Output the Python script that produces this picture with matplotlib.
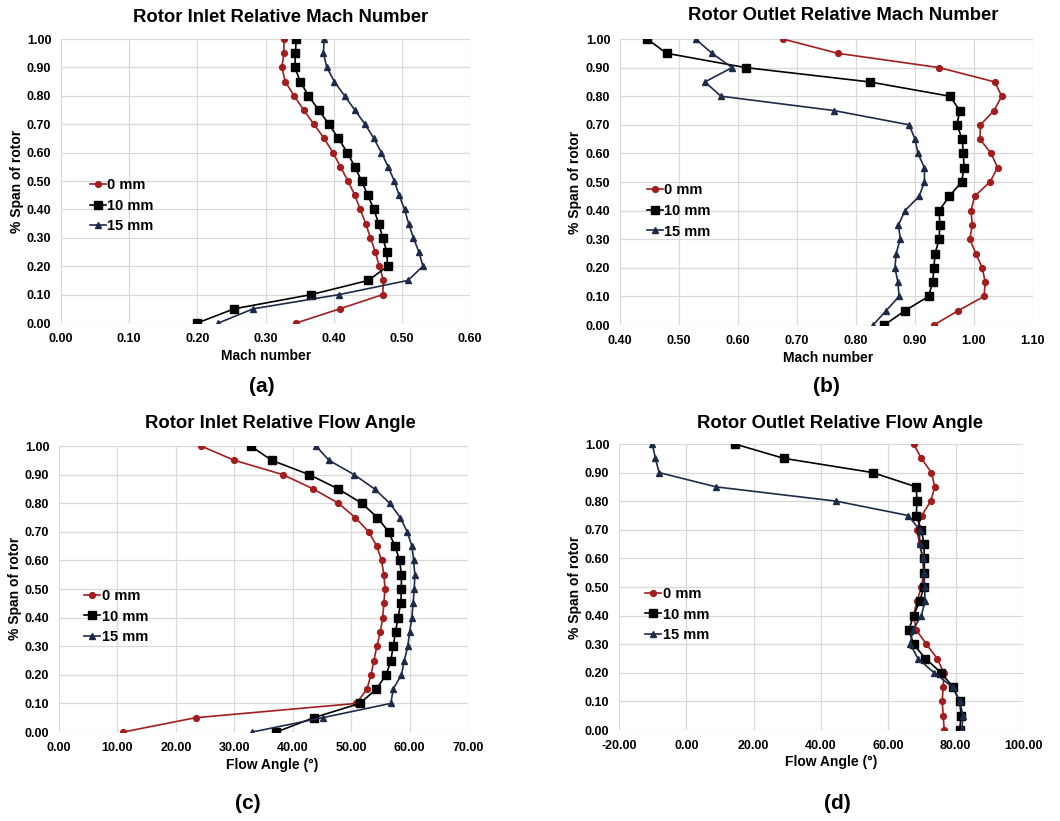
import numpy as np
import matplotlib
matplotlib.use('Agg')
import matplotlib.pyplot as plt

plt.rcParams['font.family'] = ['Liberation Sans', 'DejaVu Sans']
plt.rcParams['font.weight'] = 'bold'

span = [0.00, 0.05, 0.10, 0.15, 0.20, 0.25, 0.30, 0.35, 0.40, 0.45, 0.50,
        0.55, 0.60, 0.65, 0.70, 0.75, 0.80, 0.85, 0.90, 0.95, 1.00]
labels = ['0 mm', '10 mm', '15 mm']

# (a) rotor inlet relative Mach number, hub -> tip
inlet_mach_0 = [0.345, 0.409, 0.472, 0.473, 0.467, 0.461, 0.454, 0.447, 0.439, 0.431, 0.421,
                0.410, 0.399, 0.386, 0.371, 0.356, 0.342, 0.329, 0.324, 0.327, 0.327]
inlet_mach_10 = [0.200, 0.254, 0.367, 0.451, 0.479, 0.478, 0.472, 0.466, 0.459, 0.450, 0.441,
                 0.431, 0.420, 0.407, 0.393, 0.378, 0.363, 0.351, 0.343, 0.344, 0.345]
inlet_mach_15 = [0.231, 0.282, 0.408, 0.509, 0.531, 0.525, 0.517, 0.510, 0.504, 0.496, 0.489,
                 0.480, 0.470, 0.459, 0.446, 0.431, 0.416, 0.401, 0.390, 0.385, 0.386]

# (b) rotor outlet relative Mach number
outlet_mach_0 = [0.932, 0.973, 1.017, 1.019, 1.014, 1.003, 0.993, 0.997, 0.995, 1.001, 1.027,
                 1.040, 1.029, 1.010, 1.011, 1.034, 1.047, 1.035, 0.941, 0.769, 0.676]
outlet_mach_10 = [0.848, 0.883, 0.923, 0.930, 0.932, 0.934, 0.941, 0.942, 0.941, 0.958, 0.979,
                  0.983, 0.982, 0.980, 0.971, 0.976, 0.959, 0.823, 0.613, 0.479, 0.446]
outlet_mach_15 = [0.829, 0.851, 0.873, 0.871, 0.866, 0.868, 0.875, 0.872, 0.883, 0.907, 0.916,
                  0.916, 0.905, 0.900, 0.890, 0.762, 0.571, 0.544, 0.590, 0.556, 0.528]

# (c) rotor inlet relative flow angle
inlet_angle_0 = [11.0, 23.4, 50.9, 52.7, 53.4, 53.9, 54.4, 55.0, 55.4, 55.6, 55.8,
                 55.6, 55.2, 54.4, 53.0, 50.7, 47.8, 43.5, 38.3, 30.0, 24.3]
inlet_angle_10 = [37.2, 43.6, 51.5, 54.3, 56.0, 56.8, 57.2, 57.6, 58.0, 58.5, 58.6,
                  58.6, 58.3, 57.5, 56.4, 54.5, 51.8, 47.8, 42.8, 36.4, 32.8]
inlet_angle_15 = [33.1, 45.1, 56.8, 57.2, 58.6, 59.1, 59.7, 60.0, 60.4, 60.6, 60.8,
                  60.9, 60.7, 60.4, 59.6, 58.4, 56.6, 54.0, 50.5, 46.2, 44.0]

# (d) rotor outlet relative flow angle
outlet_angle_0 = [76.6, 76.3, 76.0, 76.3, 76.5, 74.5, 71.3, 68.3, 67.5, 68.5, 69.8,
                  70.5, 70.3, 69.3, 68.5, 69.9, 72.6, 73.8, 72.8, 69.8, 67.5]
outlet_angle_10 = [81.2, 81.6, 81.2, 79.2, 75.7, 71.0, 67.5, 66.1, 67.5, 69.3, 70.6,
                   70.7, 70.7, 70.6, 69.8, 68.3, 68.5, 68.3, 55.4, 28.9, 14.4]
outlet_angle_15 = [81.8, 82.2, 81.2, 79.1, 73.6, 68.8, 66.5, 67.3, 69.8, 70.9, 70.8,
                   70.6, 70.3, 69.3, 69.3, 65.9, 44.6, 8.9, -8.1, -9.2, -10.1]

colors = ['#a31d1d', '#000000', '#1c2b4a']
markers = ['o', 's', '^']
msizes = [4.2, 5.4, 4.2]

W, H = 1060, 821
fig = plt.figure(figsize=(W / 100, H / 100), dpi=100)


def px_axes(x0, y0, x1, y1):
    return fig.add_axes([x0 / W, 1 - y1 / H, (x1 - x0) / W, (y1 - y0) / H])


def panel(ax, series, xlim, xticks, leg_anchor):
    for vals, c, m, ms, lab in zip(series, colors, markers, msizes, labels):
        ax.plot(vals, span, color=c, marker=m, markersize=ms, lw=1.2, label=lab)
    ax.set_xlim(*xlim)
    ax.set_ylim(0, 1)
    ax.set_xticks(xticks)
    ax.set_yticks(np.arange(0, 1.01, 0.1))
    ax.xaxis.set_major_formatter(matplotlib.ticker.FormatStrFormatter('%.2f'))
    ax.yaxis.set_major_formatter(matplotlib.ticker.FormatStrFormatter('%.2f'))
    ax.grid(True, color='#d9d9d9', lw=0.9)
    ax.set_axisbelow(True)
    for s in ax.spines.values():
        s.set_visible(False)
    ax.tick_params(length=0, labelsize=9, pad=7)
    for t in ax.get_xticklabels() + ax.get_yticklabels():
        t.set_fontweight('bold')
    ax.legend(loc='upper left', bbox_to_anchor=leg_anchor, frameon=False,
              prop={'size': 10.5, 'weight': 'bold'}, handlelength=1.1,
              handletextpad=0.1, labelspacing=0.45, borderpad=0, borderaxespad=0)


ax_a = px_axes(61, 39, 470, 323)
panel(ax_a, [inlet_mach_0, inlet_mach_10, inlet_mach_15], (0, 0.6),
      np.arange(0, 0.61, 0.1), (0.07, 0.51))
ax_b = px_axes(620, 39, 1033, 325)
panel(ax_b, [outlet_mach_0, outlet_mach_10, outlet_mach_15], (0.4, 1.1),
      np.arange(0.4, 1.11, 0.1), (0.065, 0.495))
ax_c = px_axes(59, 446, 468, 732)
panel(ax_c, [inlet_angle_0, inlet_angle_10, inlet_angle_15], (0, 70),
      np.arange(0, 71, 10), (0.062, 0.5))
ax_d = px_axes(619, 444, 1023, 730)
panel(ax_d, [outlet_angle_0, outlet_angle_10, outlet_angle_15], (-20, 100),
      np.arange(-20, 101, 20), (0.065, 0.5))


def ftext(x, y, s, **kw):
    fig.text(x / W, 1 - y / H, s, ha='center', va='center', fontweight='bold', **kw)


ftext(281, 17, 'Rotor Inlet Relative Mach Number', fontsize=13.3)
ftext(843, 16, 'Rotor Outlet Relative Mach Number', fontsize=13.3)
ftext(280, 423, 'Rotor Inlet Relative Flow Angle', fontsize=13.3)
ftext(840, 423, 'Rotor Outlet Relative Flow Angle', fontsize=13.3)

ftext(266, 356, 'Mach number', fontsize=10)
ftext(828, 358, 'Mach number', fontsize=10)
ftext(272, 765, 'Flow Angle (°)', fontsize=10)
ftext(831, 762, 'Flow Angle (°)', fontsize=10)

ftext(17, 181, '% Span of rotor', fontsize=10, rotation=90)
ftext(575, 182, '% Span of rotor', fontsize=10, rotation=90)
ftext(15, 588, '% Span of rotor', fontsize=10, rotation=90)
ftext(575, 587, '% Span of rotor', fontsize=10, rotation=90)

ftext(262, 386, '(a)', fontsize=15)
ftext(826, 386, '(b)', fontsize=15)
ftext(248, 803, '(c)', fontsize=15)
ftext(837, 803, '(d)', fontsize=15)

fig.savefig('out.png', dpi=100)
